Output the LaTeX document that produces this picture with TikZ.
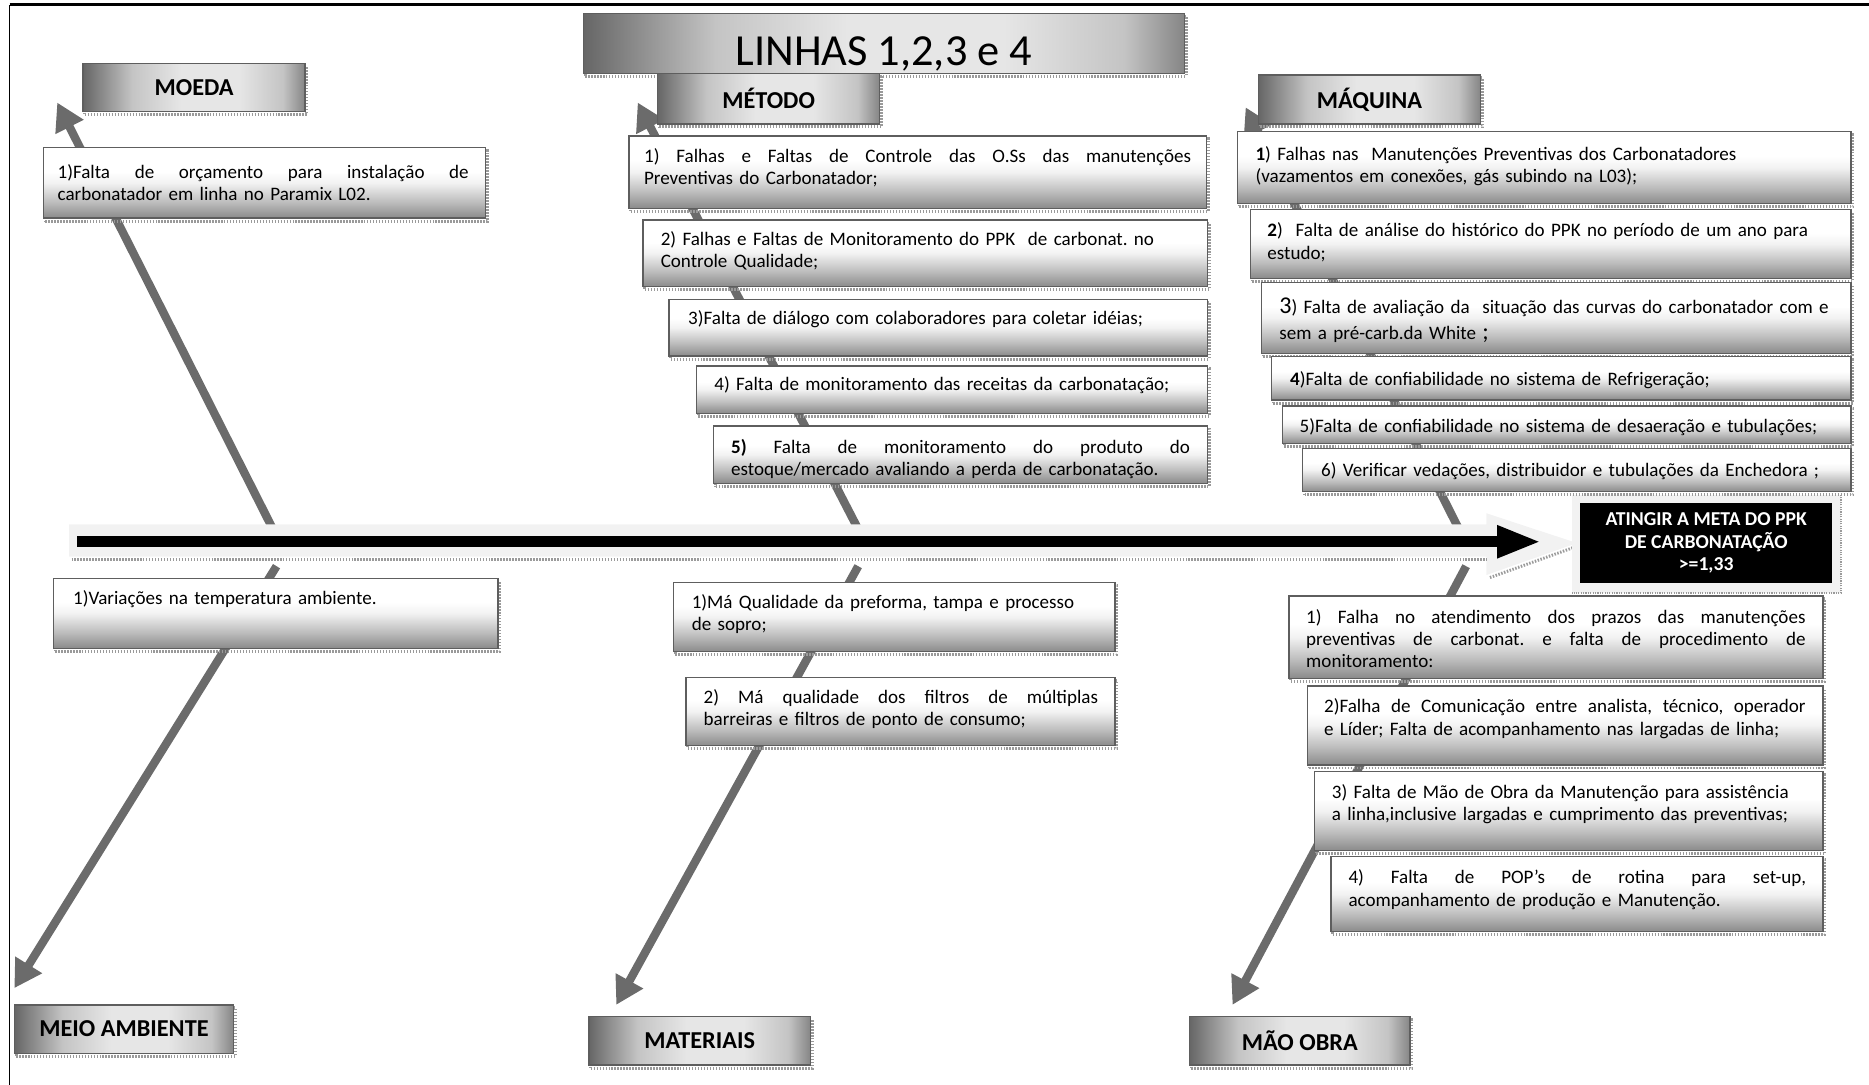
\documentclass[tikz,border=0pt]{standalone}
\usepackage{fontspec}
\setmainfont{Carlito}
\usetikzlibrary{arrows.meta,fit,shadows}
\frenchspacing

% palette
\definecolor{bonegray}{HTML}{6B6B6B}
\definecolor{edgegray}{HTML}{5E5E5E}
\definecolor{bandgray}{HTML}{F2F2F2}
\definecolor{shadowgray}{HTML}{9A9A9A}
\definecolor{cbot}{HTML}{8A8A8A}
\definecolor{cmid}{HTML}{BBBBBB}
\definecolor{cpale}{HTML}{F2F2F2}
\definecolor{ctop}{HTML}{FFFFFF}
\definecolor{hdark}{HTML}{666666}
\definecolor{hmid}{HTML}{C4C4C4}
\definecolor{hlight}{HTML}{E6E6E6}
\definecolor{hedge}{HTML}{858585}

% box fills: cause boxes fade from white (top) to grey (bottom),
% category boxes fade from dark (left) through light to grey (right)
\pgfdeclareverticalshading{causefill}{100bp}{color(0bp)=(cbot); color(25bp)=(cbot); color(36bp)=(cmid); color(50bp)=(cpale); color(58bp)=(ctop); color(100bp)=(ctop)}
\pgfdeclarehorizontalshading{headfill}{100bp}{color(0bp)=(hdark); color(25bp)=(hdark); color(36bp)=(hmid); color(47bp)=(hlight); color(60bp)=(hlight); color(70bp)=(hmid); color(75bp)=(hedge); color(100bp)=(hedge)}

\newcommand\causefont{\fontsize{9.1}{10.6}\selectfont}
\newcommand\headfont{\fontsize{11.6}{13}\selectfont\bfseries}
% one fully justified line (spaces stretched to the node's text width)
\newcommand\jl[1]{{\spaceskip=0pt\xspaceskip=0pt\makebox[\hsize][s]{#1}}}
\newcommand\bignum[1]{{\fontsize{11.5}{10.6}\selectfont #1}}

\begin{document}
\begin{tikzpicture}[x=0.02cm, y=-0.02cm,
  boxbase/.style={inner sep=0pt, outer sep=0pt},
  dotshadow/.style={general shadow={shadow xshift=0.03cm, shadow yshift=-0.05cm, draw=shadowgray, line width=0.05cm, dash pattern=on 0.025cm off 0.025cm}},
  causebox/.style={boxbase, draw=edgegray, line width=0.022cm, shading=causefill, dotshadow},
  headbox/.style={boxbase, draw=edgegray, line width=0.022cm, shading=headfill, dotshadow, font=\headfont},
  causetext/.style={anchor=base west, inner sep=0pt, align=left, font=\causefont, text width=10cm},
  bone/.style={draw=bonegray, line width=0.14cm, -{Triangle[length=0.46cm,width=0.5cm]}},
  shadowline/.style={draw=shadowgray, line width=0.05cm, dash pattern=on 0.025cm off 0.025cm},
]
\useasboundingbox (0,0) rectangle (1568,910);

% page frame
\draw[line width=0.05cm] (8,4) -- (1568,4);
\draw[line width=0.03cm] (8,4) -- (8,910);

% bones of the fishbone
\coordinate (bMoedaS) at (229,444);  \coordinate (bMoedaT) at (48,86);
\coordinate (bMetodoS) at (720,444); \coordinate (bMetodoT) at (535,86);
\coordinate (bMaqS) at (1224,444);   \coordinate (bMaqT) at (1045,90);
\coordinate (bMeioS) at (232,475);   \coordinate (bMeioT) at (12,829);
\coordinate (bMatS) at (720,475);    \coordinate (bMatT) at (517,843);
\coordinate (bMaoS) at (1230,475);   \coordinate (bMaoT) at (1034,843);
\draw[bone] (bMoedaS) -- (bMoedaT);
\draw[bone] (bMetodoS) -- (bMetodoT);
\draw[bone] (bMaqS) -- (bMaqT);
\draw[bone] (bMeioS) -- (bMeioT);
\draw[bone] (bMatS) -- (bMatT);
\draw[bone] (bMaoS) -- (bMaoT);

% pale arrow behind the spine
\path[fill=bandgray] (58,440) -- (1247,440) -- (1247,430.6) -- (1323,455.6)
  -- (1247,482.4) -- (1247,467) -- (58,467) -- cycle;
\draw[shadowline] (60,469.5) -- (1247,469.5);
\draw[shadowline] (1250,484.5) -- (1321,459);

% goal
\node[boxbase, fill=bandgray, fit={(1318.5,415) (1544.5,497.6)}] (goalframe) {};
\draw[draw=shadowgray, line width=0.03cm, dash pattern=on 0.02cm off 0.02cm]
  (goalframe.north east) -- (goalframe.south east) -- (goalframe.south west);
\node[boxbase, fill=black, text=white, align=center,
  font=\fontsize{9.4}{10.8}\selectfont\bfseries,
  minimum width=4.224cm, minimum height=1.342cm] (goal) at (1431.4,455.5)
  {ATINGIR A META DO PPK\\DE CARBONATAÇÃO\\>=1,33};

% spine
\coordinate (spineL) at (65,454.5);
\draw[line width=0.19cm, shorten >=0.51cm, -{Triangle[length=0.74cm,width=0.5cm]}]
  (spineL) -- (spineL -| goalframe.west);

% title and categories
\node[headbox, fit={(489.4,11.2) (993.5,61.5)}] (title) {};
\node[anchor=base, inner sep=0pt, font=\fontsize{21.2}{24}\selectfont] (titletext) at (741.5,55) {LINHAS 1,2,3 e 4};
\node[headbox, minimum width=3.726cm, minimum height=0.814cm] (moeda) at (162.85,73.35) {MOEDA};
\node[headbox, minimum width=3.726cm, minimum height=0.85cm] (metodo) at (644.85,82.75) {MÉTODO};
\node[headbox, minimum width=3.724cm, minimum height=0.822cm] (maquina) at (1148.9,83.45) {MÁQUINA};
\node[headbox, minimum width=3.68cm, minimum height=0.812cm] (meio) at (104,863.3) {MEIO AMBIENTE};
\node[headbox, minimum width=3.72cm, minimum height=0.81cm] (materiais) at (587,873.25) {MATERIAIS};
\node[headbox, minimum width=3.7cm, minimum height=0.81cm] (maoobra) at (1090.5,873.25) {MÃO OBRA};

% MOEDA causes
\node[causebox, fit={(36.5,124) (407.5,183)}] (moeda1) {};
\node[causetext, text width=6.9cm] (moeda1t) at (48,150)
  {\jl{1)Falta de orçamento para instalação de}\\carbonatador em linha no Paramix L02.};

% MÉTODO causes
\node[causebox, fit={(527.7,114) (1012,174.8)}] (met1) {};
\node[causetext, text width=9.18cm] (met1t) at (540,136)
  {\jl{1) Falhas e Faltas de Controle das O.Ss das manutenções}\\Preventivas do Carbonatador;};
\node[causebox, fit={(539.4,184.6) (1013,240.5)}] (met2) {};
\node[causetext] (met2t) at (554,206)
  {2) Falhas e Faltas de Monitoramento do PPK~ de carbonat. no\\Controle Qualidade;};
\node[causebox, fit={(561.2,251) (1013,298.7)}] (met3) {};
\node[causetext] (met3t) at (577,272)
  {3)Falta de diálogo com colaboradores para coletar idéias;};
\node[causebox, fit={(584.3,307) (1013,346.7)}] (met4) {};
\node[causetext] (met4t) at (599,327.5)
  {4) Falta de monitoramento das receitas da carbonatação;};
\node[causebox, fit={(598.8,357.4) (1013,405.5)}] (met5) {};
\node[causetext, text width=7.7cm] (met5t) at (613,380.5)
  {\jl{\textbf{5)} Falta de monitoramento do produto do}\\estoque/mercado avaliando a perda de carbonatação.};

% MÁQUINA causes
\node[causebox, fit={(1038,110.5) (1553,171)}] (maq1) {};
\node[causetext] (maq1t) at (1053,134.5)
  {\textbf{1}) Falhas nas~ Manutenções Preventivas dos Carbonatadores\\(vazamentos em conexões, gás subindo na L03);};
\node[causebox, fit={(1049,176) (1553,233.5)}] (maq2) {};
\node[causetext] (maq2t) at (1063,198.7)
  {\textbf{2})~ Falta de análise do histórico do PPK no período de um ano para\\estudo;};
\node[causebox, fit={(1058.5,237) (1553,296.4)}] (maq3) {};
\node[causetext] (maq3t) at (1073,263)
  {\bignum{3}) Falta de avaliação da~ situação das curvas do carbonatador com e\\[1.8pt]sem a pré-carb.da White \bignum{;}};
\node[causebox, fit={(1066.8,299.2) (1553,335.6)}] (maq4) {};
\node[causetext] (maq4t) at (1082,323.5)
  {\textbf{4})Falta de confiabilidade no sistema de Refrigeração;};
\node[causebox, fit={(1076,340.6) (1553,371.9)}] (maq5) {};
\node[causetext] (maq5t) at (1090,362.5)
  {5)Falta de confiabilidade no sistema de desaeração e tubulações;};
\node[causebox, fit={(1092.9,376.1) (1553,412.5)}] (maq6) {};
\node[causetext] (maq6t) at (1108,400)
  {6) Verificar vedações, distribuidor e tubulações da Enchedora ;};

% MEIO AMBIENTE causes
\node[causebox, fit={(44.8,485.2) (417.9,543.9)}] (meio1) {};
\node[causetext] (meio1t) at (61,507.5)
  {1)Variações na temperatura ambiente.};

% MATERIAIS causes
\node[causebox, fit={(564.9,488.8) (935.4,546.7)}] (mat1) {};
\node[causetext] (mat1t) at (580,510.5)
  {1)Má Qualidade da preforma, tampa e processo\\de sopro;};
\node[causebox, fit={(575.5,568.2) (935.4,625.6)}] (mat2) {};
\node[causetext, text width=6.62cm] (mat2t) at (590,590)
  {\jl{2) Má qualidade dos filtros de múltiplas}\\barreiras e filtros de ponto de consumo;};

% MÃO OBRA causes
\node[causebox, fit={(1081.5,500) (1529.5,569)}] (mao1) {};
\node[causetext, text width=8.38cm] (mao1t) at (1095.5,523)
  {\jl{1) Falha no atendimento dos prazos das manutenções}\\\jl{preventivas de carbonat. e falta de procedimento de}\\monitoramento:};
\node[causebox, fit={(1096.8,575.5) (1529.5,641.8)}] (mao2) {};
\node[causetext, text width=8.08cm] (mao2t) at (1110.5,598)
  {\jl{2)Falha de Comunicação entre analista, técnico, operador}\\e Líder; Falta de acompanhamento nas largadas de linha;};
\node[causebox, fit={(1102.7,647.4) (1529.5,713.7)}] (mao3) {};
\node[causetext] (mao3t) at (1117,670)
  {3) Falta de Mão de Obra da Manutenção para assistência\\a linha,inclusive largadas e cumprimento das preventivas;};
\node[causebox, fit={(1116.7,718.7) (1529.5,781.6)}] (mao4) {};
\node[causetext, text width=7.68cm] (mao4t) at (1131,741.5)
  {\jl{4) Falta de POP’s de rotina para set-up,}\\acompanhamento de produção e Manutenção.};
\end{tikzpicture}
\end{document}
